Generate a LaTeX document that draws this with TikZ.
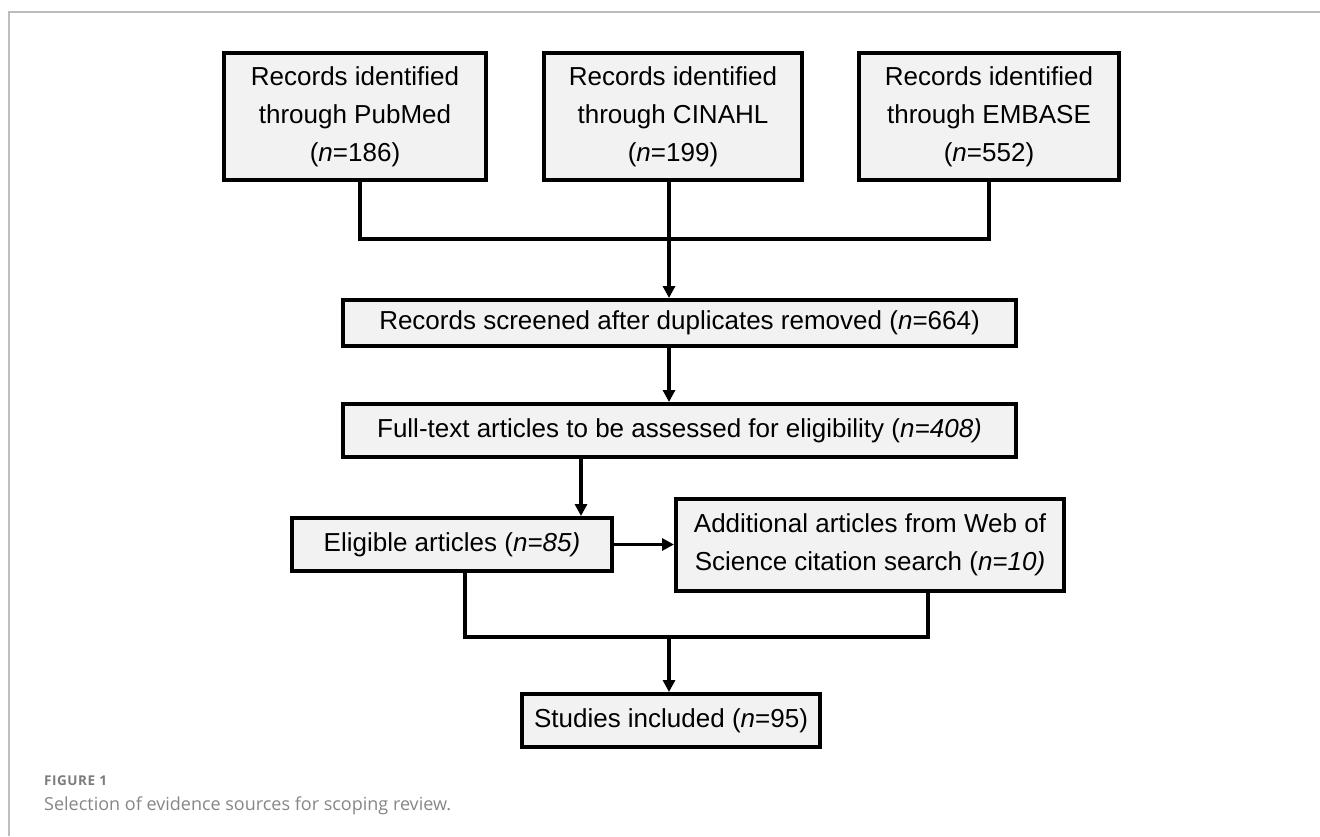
\documentclass[tikz,border=0pt]{standalone}
\usepackage{fontspec}
\usepackage{xcolor}
\usetikzlibrary{arrows.meta,calc}
\newfontfamily\flowfont{Liberation Sans}
\newfontfamily\capfont{Open Sans}
\newfontfamily\labfont[LetterSpace=4]{Open Sans}
\definecolor{boxfill}{HTML}{F2F2F2}
\definecolor{framegray}{HTML}{BDBDBD}
\definecolor{capgray}{HTML}{868686}
\definecolor{labgray}{HTML}{7C7C7C}
\tikzset{
  flowbox/.style={draw=black, line width=4pt, fill=boxfill, align=center, inner sep=0pt,
    font=\flowfont\fontsize{26}{38}\selectfont},
  joinline/.style={draw=black, line width=3.5pt},
  flowarrow/.style={joinline, -{Triangle[length=12pt,width=12pt]}}
}
\begin{document}
\begin{tikzpicture}[x=1pt,y=-1pt]
\useasboundingbox (0,0) rectangle (1320,836);
\draw [framegray, line width=1.5pt] (9,836) -- (9,12) -- (1320,12);
\node [flowbox, minimum width=262pt, minimum height=127pt] (pubmed) at (355,116.5) {Records identified\\through PubMed\\(\textit{n}=186)};
\node [flowbox, minimum width=258pt, minimum height=127pt] (cinahl) at (673,116.5) {Records identified\\through CINAHL\\(\textit{n}=199)};
\node [flowbox, minimum width=260pt, minimum height=127pt] (embase) at (989,116.5) {Records identified\\through EMBASE\\(\textit{n}=552)};
\node [flowbox, minimum width=673pt, minimum height=46pt] (screened) at (679.5,323) {Records screened after duplicates removed (\textit{n}=664)};
\node [flowbox, minimum width=673pt, minimum height=53pt] (fulltext) at (679.5,430.5) {Full-text articles to be assessed for eligibility (\textit{n=408)}};
\node [flowbox, minimum width=320pt, minimum height=53pt] (eligible) at (452,544.5) {Eligible articles (\textit{n=85)}};
\node [flowbox, minimum width=388pt, minimum height=92pt] (additional) at (870,545) {Additional articles from Web of\\Science citation search (\textit{n=10)}};
\node [flowbox, minimum width=298pt, minimum height=53pt] (studies) at (671,720.5) {Studies included (\textit{n}=95)};
\coordinate (top join) at (669,239);
\coordinate (drop) at (581,480);
\coordinate (left leg) at (465,637);
\coordinate (right leg) at (928,637);
\coordinate (bottom join) at (669,637);
\draw [joinline] (pubmed.south -| 360,0) |- (top join) -| (embase.south);
\draw [flowarrow] (cinahl.south -| top join) -- (screened.north -| top join);
\draw [flowarrow] (screened.south -| top join) -- (fulltext.north -| top join);
\draw [flowarrow] (fulltext.south -| drop) -- (eligible.north -| drop);
\draw [flowarrow] (eligible.east) -- (eligible.east -| additional.west);
\draw [joinline] (eligible.south -| left leg) |- (right leg) -- (additional.south -| right leg);
\draw [flowarrow] (bottom join) -- (studies.north -| bottom join);
\node [anchor=base west, text=labgray, font=\labfont\bfseries\fontsize{13.5}{15}\selectfont, inner sep=0pt] (figlabel) at (44,785) {FIGURE 1};
\node [anchor=base west, text=capgray, font=\capfont\fontsize{18}{20}\selectfont, inner sep=0pt] (caption) at (44,810) {Selection of evidence sources for scoping review.};
\end{tikzpicture}
\end{document}
